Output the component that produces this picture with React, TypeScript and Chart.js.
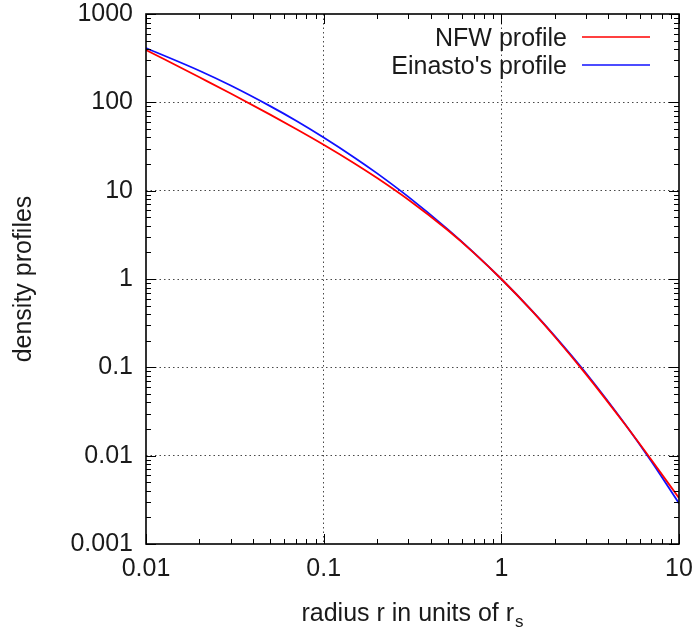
import { useEffect, useRef } from 'react';
import { Chart, registerables } from 'chart.js';

Chart.register(...registerables);

const radius = [0.01, 0.02, 0.03, 0.05, 0.07, 0.1, 0.15, 0.2, 0.3, 0.5, 0.7, 1, 1.5, 2, 3, 5, 7, 10];
const nfwProfile = [392, 192, 126, 72.6, 49.9, 33.1, 20.2, 13.9, 7.89, 3.56, 1.98, 1, 0.427, 0.222, 0.0833, 0.0222, 0.00893, 0.00331];
const einastoProfile = [412, 228, 155, 90.6, 61.9, 40.0, 23.5, 15.7, 8.5, 3.65, 1.99, 1, 0.43, 0.226, 0.0857, 0.0224, 0.00858, 0.00288];

const xTickValues = [0.01, 0.1, 1, 10];
const xTickLabels = ['0.01', '0.1', '1', '10'];
const yTickValues = [0.001, 0.01, 0.1, 1, 10, 100, 1000];
const yTickLabels = ['0.001', '0.01', '0.1', '1', '10', '100', '1000'];

const seriesNames = ['NFW profile', "Einasto's profile"];
const seriesColors = ['#ff0000', '#1010ff'];
const xTitle = 'radius r in units of r';
const xTitleSub = 's';
const yTitle = 'density profiles';

const FONT = '"Liberation Sans", Arial, sans-serif';
const FS = 25;
const TEXT = '#1a1a1a';

const framePlugin = {
  id: 'frame',
  afterDraw(chart: any) {
    const { ctx, chartArea, scales } = chart;
    const { left, right, top, bottom } = chartArea;
    const x = scales.x;
    const y = scales.y;
    ctx.save();
    ctx.strokeStyle = '#000';
    ctx.lineWidth = 1;
    ctx.beginPath();
    const tickX = (v: number, len: number) => {
      const px = Math.round(x.getPixelForValue(v)) + 0.5;
      ctx.moveTo(px, bottom);
      ctx.lineTo(px, bottom - len);
      ctx.moveTo(px, top);
      ctx.lineTo(px, top + len);
    };
    const tickY = (v: number, len: number) => {
      const py = Math.round(y.getPixelForValue(v)) + 0.5;
      ctx.moveTo(left, py);
      ctx.lineTo(left + len, py);
      ctx.moveTo(right, py);
      ctx.lineTo(right - len, py);
    };
    for (let e = -2; e <= 1; e++) {
      const base = Math.pow(10, e);
      tickX(base, 10);
      if (e < 1) for (let k = 2; k <= 9; k++) tickX(k * base, 5);
    }
    for (let e = -3; e <= 3; e++) {
      const base = Math.pow(10, e);
      tickY(base, 10);
      if (e < 3) for (let k = 2; k <= 9; k++) tickY(k * base, 5);
    }
    ctx.stroke();
    ctx.lineWidth = 1.6;
    ctx.strokeRect(left, top, right - left, bottom - top);

    // legend
    ctx.font = `${FS}px ${FONT}`;
    ctx.fillStyle = TEXT;
    ctx.textAlign = 'right';
    ctx.textBaseline = 'alphabetic';
    const legendY = [46, 74];
    seriesNames.forEach((name, i) => {
      ctx.fillText(name, 567, legendY[i]);
      ctx.strokeStyle = seriesColors[i];
      ctx.lineWidth = 1.6;
      ctx.beginPath();
      ctx.moveTo(582, legendY[i] - 9);
      ctx.lineTo(650, legendY[i] - 9);
      ctx.stroke();
    });

    // x title with subscript
    const cx = (left + right) / 2;
    ctx.textAlign = 'left';
    ctx.font = `${FS}px ${FONT}`;
    const w1 = ctx.measureText(xTitle).width;
    ctx.font = `${17}px ${FONT}`;
    const w2 = ctx.measureText(xTitleSub).width;
    const sx = cx - (w1 + w2 + 1) / 2;
    ctx.font = `${FS}px ${FONT}`;
    ctx.fillText(xTitle, sx, 621);
    ctx.font = `${17}px ${FONT}`;
    ctx.fillText(xTitleSub, sx + w1 + 1, 627);

    // y title
    ctx.save();
    ctx.translate(31, (top + bottom) / 2);
    ctx.rotate(-Math.PI / 2);
    ctx.font = `${FS}px ${FONT}`;
    ctx.textAlign = 'center';
    ctx.fillText(yTitle, 0, 0);
    ctx.restore();

    ctx.restore();
  },
};

export default function App() {
  const ref = useRef<HTMLCanvasElement | null>(null);
  useEffect(() => {
    if (!ref.current) return;
    const gridColor = (c: any) => {
      const s = c.scale;
      const v = c.tick && c.tick.value;
      if (v === undefined) return 'rgba(0,0,0,0)';
      if (Math.abs(Math.log10(v) - Math.log10(s.min)) < 1e-6 || Math.abs(Math.log10(v) - Math.log10(s.max)) < 1e-6) return 'rgba(0,0,0,0)';
      return 'rgba(40,40,40,0.85)';
    };
    const chart = new Chart(ref.current, {
      type: 'line',
      data: {
        datasets: [
          {
            label: seriesNames[0],
            data: radius.map((r, i) => ({ x: r, y: nfwProfile[i] })),
            borderColor: seriesColors[0],
            borderWidth: 1.8,
            pointRadius: 0,
            cubicInterpolationMode: 'monotone',
            fill: false,
          },
          {
            label: seriesNames[1],
            data: radius.map((r, i) => ({ x: r, y: einastoProfile[i] })),
            borderColor: seriesColors[1],
            borderWidth: 1.8,
            pointRadius: 0,
            cubicInterpolationMode: 'monotone',
            fill: false,
          },
        ],
      },
      options: {
        animation: false,
        responsive: false,
        maintainAspectRatio: false,
        layout: { padding: { left: 0, top: 14, right: 16, bottom: 0 } },
        plugins: { legend: { display: false }, tooltip: { enabled: false } },
        scales: {
          x: {
            type: 'logarithmic',
            min: 0.01,
            max: 10,
            afterBuildTicks: (s: any) => {
              s.ticks = xTickValues.map((v) => ({ value: v }));
            },
            afterFit: (s: any) => {
              s.height = 88;
              s.paddingLeft = 0;
              s.paddingRight = 0;
            },
            ticks: {
              autoSkip: false,
              maxRotation: 0,
              padding: 10,
              color: TEXT,
              font: { family: FONT, size: FS },
              callback: (v: any) => {
                const i = xTickValues.findIndex((t) => Math.abs(t - v) / t < 1e-6);
                return i >= 0 ? xTickLabels[i] : '';
              },
            },
            grid: { color: gridColor, lineWidth: 1, drawTicks: false },
            border: { display: false, dash: [1.5, 3] },
          },
          y: {
            type: 'logarithmic',
            min: 0.001,
            max: 1000,
            afterBuildTicks: (s: any) => {
              s.ticks = yTickValues.map((v) => ({ value: v }));
            },
            afterFit: (s: any) => {
              s.width = 146;
              s.paddingTop = 0;
              s.paddingBottom = 0;
            },
            ticks: {
              autoSkip: false,
              padding: 13,
              color: TEXT,
              font: { family: FONT, size: FS },
              callback: (v: any) => {
                const i = yTickValues.findIndex((t) => Math.abs(t - v) / t < 1e-6);
                return i >= 0 ? yTickLabels[i] : '';
              },
            },
            grid: { color: gridColor, lineWidth: 1, drawTicks: false },
            border: { display: false, dash: [1.5, 3] },
          },
        },
      },
      plugins: [framePlugin],
    } as any);
    return () => chart.destroy();
  }, []);
  return (
    <div style={{ position: 'fixed', left: 0, top: 0, width: 695, height: 632, background: '#fff' }}>
      <canvas ref={ref} width={695} height={632} style={{ width: 695, height: 632, display: 'block' }} />
    </div>
  );
}
